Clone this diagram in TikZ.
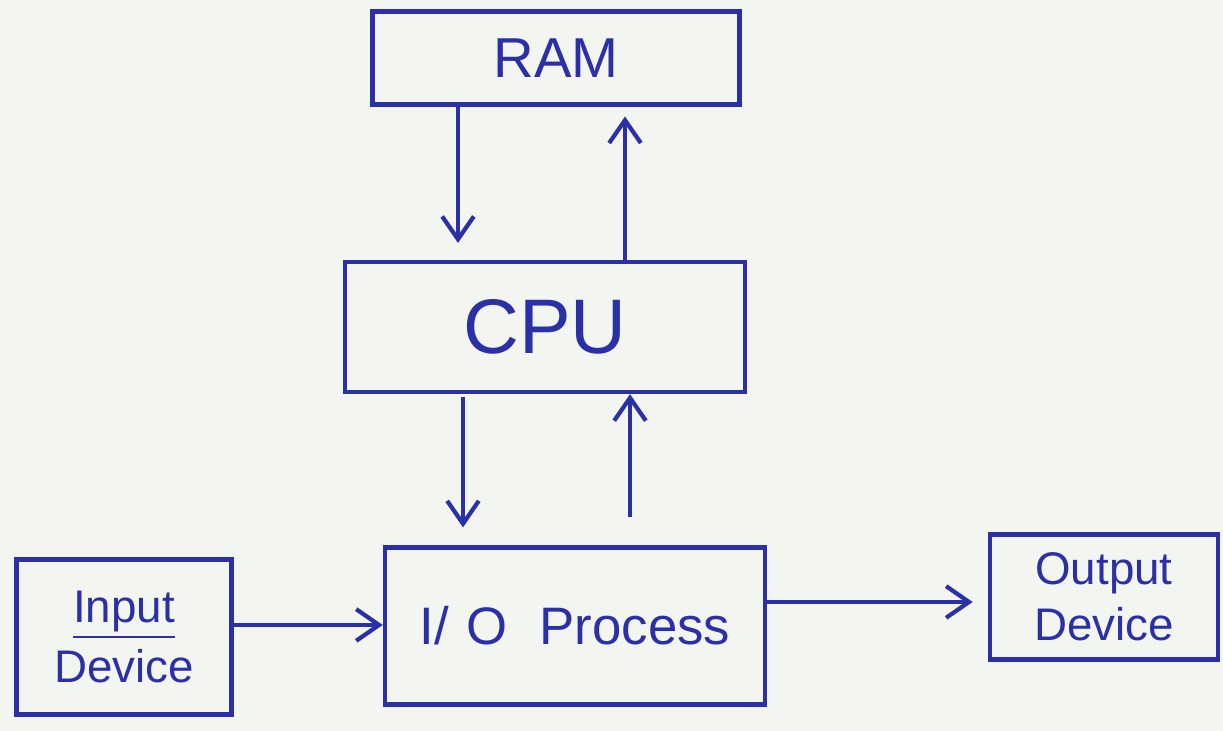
\documentclass[tikz,border=0pt]{standalone}
\usepackage{fontspec}
\setmainfont{Liberation Sans}
\usetikzlibrary{arrows.meta}
\definecolor{pen}{HTML}{2B2FA8}
\definecolor{paper}{HTML}{F3F5F1}
\begin{document}
\begin{tikzpicture}[x=0.01cm,y=-0.01cm,
  box/.style={draw=pen,line width=1.2pt,text=pen,rectangle,inner sep=0pt},
  arr/.style={draw=pen,line width=1.2pt,-{Straight Barb[length=6.5pt,width=9pt]}}]
  \fill[paper] (0,0) rectangle (1223,731);
  \useasboundingbox (0,0) rectangle (1223,731);

  % blocks
  \node[box,minimum width=3.67cm,minimum height=0.93cm,font=\fontsize{16}{18}\selectfont] (ram) at (556,58) {RAM};
  \node[box,minimum width=4.00cm,minimum height=1.30cm,font=\fontsize{22}{24}\selectfont] (cpu) at (545,327) {CPU};
  \node[box,minimum width=3.80cm,minimum height=1.57cm,font=\fontsize{15}{18}\selectfont] (io) at (575,626) {I/\,\,O\,\, Process};
  \node[box,minimum width=2.15cm,minimum height=1.55cm,font=\fontsize{13}{17}\selectfont,align=center] (in) at (124,637) {\underline{Input}\\Device};
  \node[box,minimum width=2.28cm,minimum height=1.25cm,font=\fontsize{13}{16}\selectfont,align=center] (out) at (1104,597) {Output\\Device};

  % memory bus
  \coordinate (a1) at (458,0);
  \coordinate (a2) at (625,0);
  \draw[arr,shorten >=4.8pt] (ram.south -| a1) -- (cpu.north -| a1);
  \draw[arr,shorten >=2.8pt] (cpu.north -| a2) -- (ram.south -| a2);

  % I/O bus
  \coordinate (b1) at (463,0);
  \coordinate (b2) at (630,0);
  \draw[arr,shorten <=0.9pt,shorten >=5.1pt] (cpu.south -| b1) -- (io.north -| b1);
  \draw[arr,shorten <=8pt] (io.north -| b2) -- (cpu.south -| b2);

  % devices
  \coordinate (c1) at (0,625);
  \coordinate (c2) at (0,602);
  \draw[arr] (in.east |- c1) -- (io.west |- c1);
  \draw[arr,shorten >=4.3pt] (io.east |- c2) -- (out.west |- c2);
\end{tikzpicture}
\end{document}
